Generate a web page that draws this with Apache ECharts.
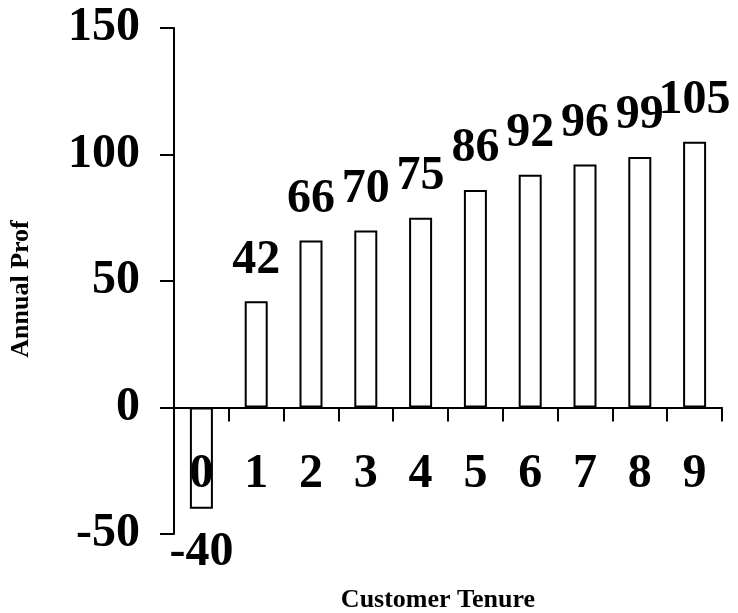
<!DOCTYPE html>
<html>
<head>
<meta charset="utf-8">
<script src="https://cdn.jsdelivr.net/npm/echarts@6/dist/echarts.min.js"></script>
<style>
  html, body { margin: 0; padding: 0; background: #fff; }
  #chart { width: 738px; height: 613px; }
</style>
</head>
<body>
<div id="chart"></div>
<script>
// Annual profit by customer tenure (years)
const tenure = ['0', '1', '2', '3', '4', '5', '6', '7', '8', '9'];
const annualProfit = [-40, 42, 66, 70, 75, 86, 92, 96, 99, 105];
const yTicks = { min: -50, max: 150, interval: 50 };

const serif = "'Liberation Serif', 'Times New Roman', serif";

// plot area geometry
const gridTop = 28, gridBottom = 79, chartHeight = 613;
const plotHeight = chartHeight - gridTop - gridBottom;
// lift the category axis from the bottom of the plot up to the value 0
const zeroLift = plotHeight * (0 - yTicks.min) / (yTicks.max - yTicks.min);

const chart = echarts.init(document.getElementById('chart'), null, { renderer: 'canvas' });

const barData = annualProfit.map(v => ({
  value: v,
  label: v < 0 ? { position: 'bottom', distance: 20 } : { position: 'top', distance: 17 }
}));

chart.setOption({
  backgroundColor: '#ffffff',
  animation: false,
  grid: { left: 174, right: 16, top: gridTop, bottom: gridBottom, containLabel: false, outerBoundsMode: 'none' },
  xAxis: {
    type: 'category',
    data: tenure,
    boundaryGap: true,
    position: 'bottom',
    offset: -zeroLift,
    z: 5,
    name: 'Customer Tenure',
    nameLocation: 'middle',
    nameGap: 180,
    nameMoveOverlap: false,
    nameTextStyle: { fontFamily: serif, fontWeight: 'bold', fontSize: 26, color: '#000', padding: [0, 20, 0, 0] },
    axisLine: { onZero: false, lineStyle: { color: '#000', width: 2 } },
    axisTick: { show: true, alignWithLabel: false, inside: false, length: 14, lineStyle: { color: '#000', width: 2 } },
    axisLabel: {
      margin: 43, fontFamily: serif, fontWeight: 'bold', fontSize: 48, color: '#000',
      interval: 0, showMinLabel: true, showMaxLabel: true, hideOverlap: false
    },
    splitLine: { show: false }
  },
  yAxis: {
    type: 'value',
    min: yTicks.min,
    max: yTicks.max,
    interval: yTicks.interval,
    name: 'Annual Prof',
    nameLocation: 'middle',
    nameRotate: 90,
    nameGap: 140,
    nameMoveOverlap: false,
    nameTextStyle: { fontFamily: serif, fontWeight: 'bold', fontSize: 26, color: '#000', padding: [0, 16, 0, 0] },
    axisLine: { show: true, lineStyle: { color: '#000', width: 2 } },
    axisTick: { show: true, inside: false, length: 14, lineStyle: { color: '#000', width: 2 } },
    axisLabel: {
      margin: 34, fontFamily: serif, fontWeight: 'bold', fontSize: 48, color: '#000',
      showMinLabel: true, showMaxLabel: true
    },
    splitLine: { show: false }
  },
  series: [{
    type: 'bar',
    data: barData,
    barWidth: 23,
    z: 2,
    itemStyle: { color: '#ffffff', borderColor: '#000', borderWidth: 2 },
    label: {
      show: true,
      fontFamily: serif,
      fontWeight: 'bold',
      fontSize: 48,
      color: '#000'
    }
  }]
});
</script>
</body>
</html>
